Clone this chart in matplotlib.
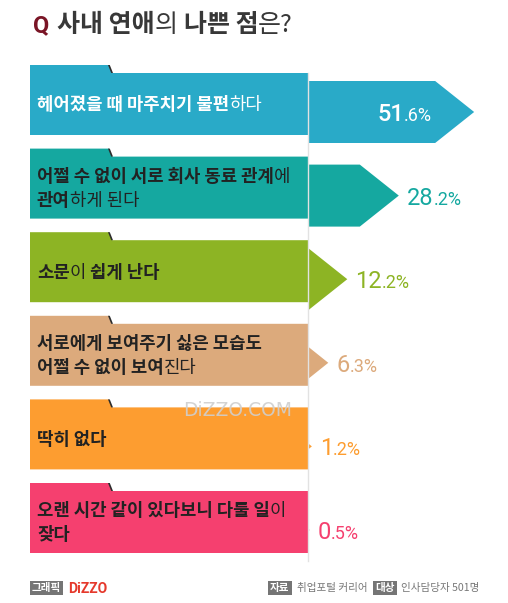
import re
import matplotlib
matplotlib.use("Agg")
import matplotlib.pyplot as plt
from matplotlib.patches import Polygon, Rectangle

# ---------------- data ----------------
title_q = "Q"
title = "사내 연애{의} 나쁜 점{은?}"          # {..} = light weight
categories = [
    "헤어졌을 때 마주치기 불편{하다}",
    "어쩔 수 없이 서로 회사 동료 관계{에}\n관여{하게 된다}",
    "소문{이} 쉽게 난다",
    "서로에게 보여주기 싫은 모습도\n어쩔 수 없이 보여{진다}",
    "딱히 없다",
    "오랜 시간 같이 있다보니 다툴 일{이}\n잦다",
]
values = [51.6, 28.2, 12.2, 6.3, 1.2, 0.5]
graphic_tag = "그래픽"
brand = "DiZZO"
source_tag = "자료"
source = "취업포털 커리어"
target_tag = "대상"
target = "인사담당자 501명"
watermark = "DiZZO.COM"

# ---------------- style ----------------
bar_colors = ["#29aac8", "#15a8a0", "#8db424", "#dcaa7c", "#fd9d30", "#f5406f"]
label_colors = ["white", "#222222", "#222222", "#222222", "#222222", "#222222"]
value_colors = ["white", "#15a8a0", "#8db424", "#dcaa7c", "#fd9d30", "#f5406f"]
KR = ["Noto Sans CJK KR", "DejaVu Sans"]
NUM = ["Roboto", "DejaVu Sans"]

W, H = 508, 603
X_LEFT, X_AXIS = 30, 308
ROW0, ROW_STEP = 65, 83.6
TAB_W, TAB_H, BOX_H = 79, 8, 70
PX_PER_PCT = 3.22
HEAD_MAX, BODY_HALF, ARROW_OFF = 39, 31, 47

fig = plt.figure(figsize=(W / 100, H / 100), dpi=100)
ax = fig.add_axes([0, 0, 1, 1])
ax.set_xlim(0, W)
ax.set_ylim(H, 0)
ax.axis("off")
renderer = fig.canvas.get_renderer()


def width_of(t):
    bb = t.get_window_extent(renderer=renderer)
    return bb.width


def space_width(size, family, weight):
    a = ax.text(0, 0, "가 가", fontsize=size, family=family, weight=weight)
    b = ax.text(0, 0, "가가", fontsize=size, family=family, weight=weight)
    w = width_of(a) - width_of(b)
    a.remove(); b.remove()
    return w


def rich_line(x, y_base, s, size, color, heavy="bold", light="normal",
              family=KR, zorder=5):
    parts = re.split(r"(\{[^}]*\})", s)
    sw = space_width(size, family, heavy)
    for p in parts:
        if not p:
            continue
        if p.startswith("{"):
            txt, wt = p[1:-1], light
        else:
            txt, wt = p, heavy
        n_lead = len(txt) - len(txt.lstrip(" "))
        x += n_lead * sw
        txt = txt.lstrip(" ")
        if not txt:
            continue
        t = ax.text(x, y_base, txt, fontsize=size, family=family, weight=wt,
                    color=color, va="baseline", ha="left", zorder=zorder)
        x += width_of(t)
    return x


# ---------------- title ----------------
TS = 18
tq = ax.text(33, 32, title_q, fontsize=TS - 1, family=NUM, weight="bold",
             color="#7a1526", va="baseline", ha="left")
rich_line(33 + width_of(tq) + 8, 32, title, TS, "#383838", heavy="bold",
          light="normal")

# ---------------- rows ----------------
LS = 12.8
em = LS * 100 / 72
for i, (lab, v) in enumerate(zip(categories, values)):
    T = ROW0 + i * ROW_STEP
    col = bar_colors[i]
    box = Polygon([(X_LEFT, T), (X_LEFT + TAB_W, T), (X_LEFT + TAB_W + 3, T + TAB_H),
                   (X_AXIS, T + TAB_H), (X_AXIS, T + BOX_H), (X_LEFT, T + BOX_H)],
                  closed=True, facecolor=col, edgecolor="none", zorder=2)
    ax.add_patch(box)
    notch = Polygon([(X_LEFT + TAB_W - 1, T), (X_LEFT + TAB_W + 0.8, T),
                     (X_LEFT + TAB_W + 4, T + TAB_H), (X_LEFT + TAB_W + 2.2, T + TAB_H)],
                    closed=True, facecolor="#2c2c2c", edgecolor="none", zorder=3)
    ax.add_patch(notch)

    # arrow whose length is proportional to the value
    L = v * PX_PER_PCT
    c = T + ARROW_OFF
    if L > HEAD_MAX:
        pts = [(X_AXIS, c - BODY_HALF), (X_AXIS + L - HEAD_MAX, c - BODY_HALF),
               (X_AXIS + L, c), (X_AXIS + L - HEAD_MAX, c + BODY_HALF),
               (X_AXIS, c + BODY_HALF)]
        tip, shoulder = X_AXIS + L, X_AXIS + L - HEAD_MAX
    else:
        half = min(BODY_HALF, 0.8 * L)
        pts = [(X_AXIS, c - half), (X_AXIS + L, c), (X_AXIS, c + half)]
        tip, shoulder = X_AXIS + L, None
    ax.add_patch(Polygon(pts, closed=True, facecolor=col, edgecolor="none", zorder=2))

    # label text
    lines = lab.split("\n")
    mid = T + (TAB_H + BOX_H) / 2
    gap = 24
    n = len(lines)
    for k, ln in enumerate(lines):
        yc = mid + (k - (n - 1) / 2) * gap
        rich_line(37, yc + 0.36 * em, ln, LS, label_colors[i])

    # value text
    s = f"{v:.1f}%"
    ip, dp = s.split(".")
    dp = "." + dp
    base = c + 9
    t1 = ax.text(0, base, ip, fontsize=17, family=NUM,
                 weight="medium" if i == 0 else "normal",
                 color=value_colors[i], va="baseline", ha="left", zorder=6)
    t2 = ax.text(0, base, dp, fontsize=13, family=NUM, weight="normal",
                 color=value_colors[i], va="baseline", ha="left", zorder=6)
    w1, w2 = width_of(t1), width_of(t2)
    if shoulder is not None and shoulder - X_AXIS > w1 + w2 + 30:
        x0 = shoulder - 3 - (w1 + w2)
    else:
        x0 = tip + 8
    t1.set_x(x0)
    t2.set_x(x0 + w1)

# axis line
ax.plot([X_AXIS - 0.5, X_AXIS - 0.5], [ROW0 + TAB_H, ROW0 + 5 * ROW_STEP + BOX_H + 8],
        color="#e2e2e2", lw=1, zorder=4)

# watermark
ax.text(183, 416, watermark, fontsize=13.5, family=["DejaVu Sans"], weight="normal",
        color="#cfcfcf", alpha=0.9, va="baseline", ha="left", zorder=7)

# ---------------- footer ----------------
FS = 7.6
fy = 588.5


def tag(x0, x1, s):
    ax.add_patch(Rectangle((x0, 581), x1 - x0, 14, facecolor="#757575",
                           edgecolor="none", zorder=3))
    ax.text((x0 + x1) / 2, fy, s, fontsize=FS, family=KR, weight="bold",
            color="white", va="center", ha="center", zorder=4)


tag(30, 63, graphic_tag)
ax.text(68, fy + 0.5, brand, fontsize=10, family=NUM, weight="bold",
        color="#e5392c", va="center", ha="left")
tag(268, 292, source_tag)
ax.text(297, fy, source, fontsize=FS, family=KR, weight="normal",
        color="#777777", va="center", ha="left")
tag(373, 397, target_tag)
ax.text(401, fy, target, fontsize=FS, family=KR, weight="normal",
        color="#777777", va="center", ha="left")

fig.savefig("out.png", dpi=100)
